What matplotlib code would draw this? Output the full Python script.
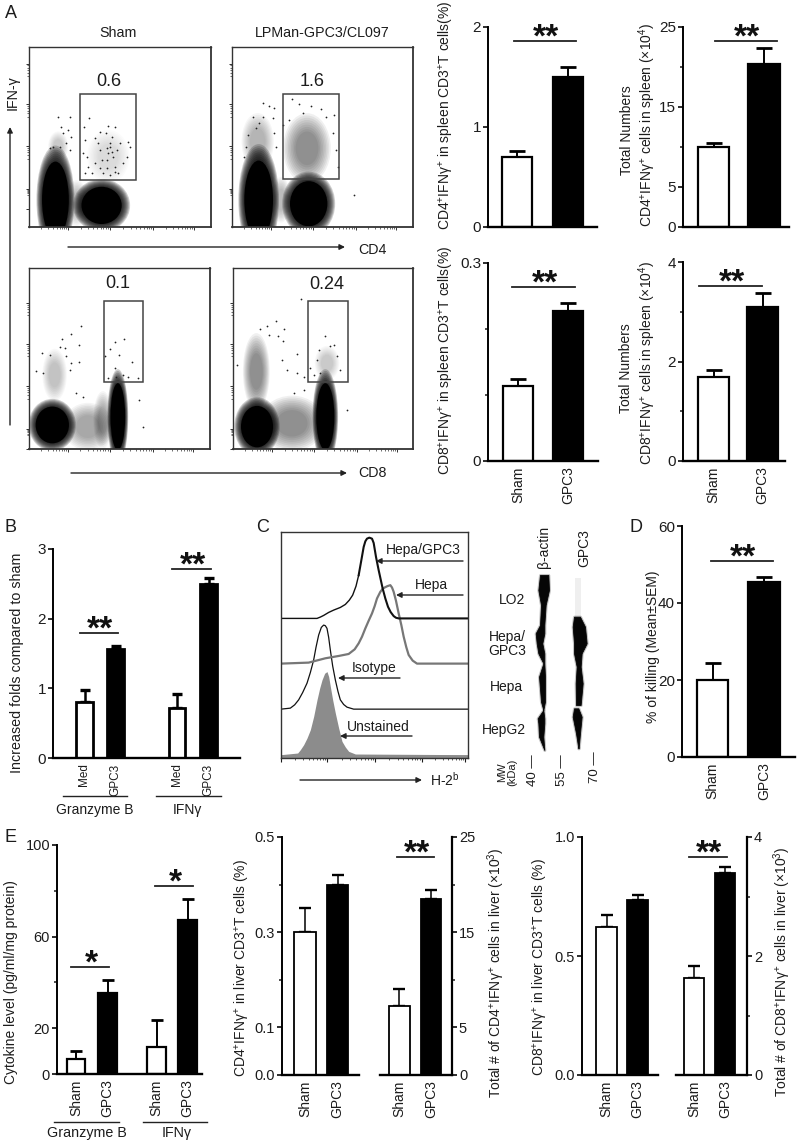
import numpy as np
import matplotlib
matplotlib.use("Agg")
import matplotlib.pyplot as plt
from matplotlib.patches import Ellipse, Rectangle

plt.rcParams['font.family'] = ['Liberation Sans', 'DejaVu Sans']
plt.rcParams['mathtext.fontset'] = 'custom'
plt.rcParams['mathtext.rm'] = 'Liberation Sans'
plt.rcParams['mathtext.default'] = 'rm'
INK = '#1c1c1c'
plt.rcParams['text.color'] = INK
plt.rcParams['axes.labelcolor'] = INK
plt.rcParams['xtick.color'] = INK
plt.rcParams['ytick.color'] = INK

# ---- bar data ----
sham_gpc3 = ['Sham', 'GPC3']
a1_vals, a1_errs = [0.70, 1.50], [0.06, 0.10]
a2_vals, a2_errs = [10.0, 20.4], [0.5, 2.0]
a3_vals, a3_errs = [0.114, 0.228], [0.010, 0.011]
a4_vals, a4_errs = [1.69, 3.09], [0.14, 0.29]
b_labels = ['Med', 'GPC3', 'Med', 'GPC3']
b_vals, b_errs = [0.80, 1.56, 0.715, 2.50], [0.17, 0.05, 0.205, 0.09]
d_vals, d_errs = [19.9, 45.5], [4.4, 1.2]
e1_labels = ['Sham', 'GPC3', 'Sham', 'GPC3']
e1_vals, e1_errs = [6.5, 35.3, 12.0, 67.3], [3.4, 5.8, 11.7, 9.2]
e2_vals, e2_errs = [0.30, 0.40], [0.05, 0.02]
e3_vals, e3_errs = [7.3, 18.5], [1.7, 0.9]
e4_vals, e4_errs = [0.62, 0.735], [0.053, 0.022]
e5_vals, e5_errs = [1.63, 3.40], [0.20, 0.09]

# ---- histogram curves (panel C) ----
h_gpc3_x = [47,155,165,175,190,205,225,240,252,262,272,280,288,295,300,305,312,320,325,332,340,352,360,368,376,385,392,400,608]
h_gpc3_y = [325,325,321,316,307,300,292,283,270,255,228,195,150,110,93,85,82,85,98,140,180,235,265,290,306,318,323,325,325]
h_hepa_x = [47,130,180,220,250,268,280,290,300,310,320,328,335,345,352,358,366,375,380,385,392,400,408,415,423,430,442,455,608]
h_hepa_y = [461,458,445,438,432,418,400,380,355,332,310,288,265,245,236,232,228,225,232,245,272,310,345,380,412,435,452,461,461]
h_iso_x = [47,75,88,100,112,125,135,145,152,160,168,175,180,185,190,195,202,210,218,225,235,245,265,608]
h_iso_y = [598,595,585,570,548,520,488,450,412,375,352,345,347,355,382,420,468,510,545,570,584,592,598,598]
h_un_x = [47,97,105,115,125,135,145,155,163,170,178,185,190,195,202,210,220,230,240,250,270,608]
h_un_y = [735,730,720,705,685,660,620,570,535,510,490,485,500,530,570,610,655,695,712,725,733,735]

# ---- western blot band outlines ----
actin_y = [195,240,285,345,370,400,430,460,500,575,600,625,640,680,720]
actin_l = [825,820,828,825,812,815,820,835,822,828,835,818,820,822,838]
actin_r = [850,852,842,838,838,832,838,838,840,840,835,838,838,835,838]
gpc_a_y = [320,350,400,430,470,520,585]
gpc_a_l = [42,38,42,42,50,47,48]
gpc_a_r = [60,75,80,65,62,68,62]
gpc_b_y = [595,620,670,715]
gpc_b_l = [42,38,48,55]
gpc_b_r = [55,65,60,56]

# ---- flow cytometry: populations (cx, cy, rx, ry, strength) and sparse events ----
f1_core = [(167,600,40,115),(305,617,60,56)]
f1_mid = [(175,440,26,40,.18),(325,470,55,70,.14),(230,610,30,60,.25)]
f1_pts = [(253,380),(267,355),(255,420),(250,460),(262,470),(285,415),(300,395),(295,430),(325,378),(345,382),
          (318,400),(335,410),(300,450),(330,440),(325,460),(340,470),(320,480),(360,430),(385,425),(380,470),
          (370,490),(345,500),(310,520),(330,525),(285,490),(265,500),(275,520),(355,520),(255,520),(390,440),
          (350,450),(305,480),(175,352),(210,352),(185,380),(205,390),(190,400),(215,410),(180,440),(200,430),
          (160,440),(150,445),(210,450),(330,430),(322,445),(335,455),(300,505),(320,505),(345,515)]
f2_core = [(168,600,43,118),(318,612,56,68)]
f2_mid = [(313,445,62,92,.42),(165,425,42,75,.28),(235,600,25,60,.25)]
f2_pts = [(268,296),(182,310),(198,318),(215,325),(290,312),(325,318),(355,328),(300,340),(180,350),(210,355),
          (160,385),(135,405),(453,587),(395,345),(370,350),(260,360),(240,375),(390,400),(400,450),(405,500),
          (130,440),(125,470),(215,400),(220,440),(170,370),(150,350)]
f3_core = [(158,555,50,55),(355,530,22,100)]
f3_mid = [(265,560,65,62,.33),(165,405,32,68,.22),(310,540,25,75,.30)]
f3_pts = [(245,258),(213,284),(187,298),(237,315),(180,322),(195,325),(128,340),(150,345),(237,367),(215,368),
          (375,297),(347,308),(332,328),(317,348),(360,345),(345,385),(397,365),(325,415),(370,405),(350,410),
          (385,412),(415,415),(420,480),(430,560),(130,400),(108,392),(200,350),(210,390),(230,460),(250,470)]
f4_core = [(160,560,48,62),(365,530,27,100)]
f4_mid = [(265,550,85,72,.42),(158,395,35,100,.42),(370,370,32,45,.2)]
f4_pts = [(292,178),(217,243),(190,258),(170,268),(240,268),(195,285),(222,288),(365,288),(280,342),(390,315),
          (345,330),(237,305),(100,375),(430,510),(300,410),(330,405),(280,400),(250,390),(235,360),(380,320),
          (340,360),(400,350),(410,390),(350,400),(320,385),(270,460),(300,450)]

gates = [(241,281,166,259),(242,281,166,257),(312,183,120,242),(312,184,120,242)]
gate_text = ['0.6', '1.6', '0.1', '0.24']

fig = plt.figure(figsize=(8.0, 11.47), dpi=100, facecolor='white')
W, H = 800.0, 1147.0

def px_axes(l, r, t, b):
    return fig.add_axes([l/W, 1-b/H, (r-l)/W, (b-t)/H])

def bar_panel(vals, errs, labels, l, r, t, b, edges, ymax, major, majl, minor, side='left',
              cap=6, lw=1.6, ts=11, ls=10):
    ax = px_axes(l, r, t, b)
    ax.patch.set_alpha(0)
    ax.set_xlim(l, r)
    ax.set_ylim(0, ymax)
    cs = [(e[0]+e[1])/2 for e in edges]
    ws = [e[1]-e[0] for e in edges]
    cols = ['white', 'black'] * (len(vals)//2)
    ax.errorbar(cs, vals, yerr=[[0]*len(errs), errs], fmt='none', ecolor='black',
                elinewidth=lw-0.2, capsize=cap, capthick=lw+0.4, clip_on=False, zorder=1)
    ax.bar(cs, vals, ws, color=cols, edgecolor='black', linewidth=lw, zorder=2)
    for s in ['top', 'left', 'right']:
        ax.spines[s].set_visible(False)
    ax.spines[side].set_visible(True)
    ax.spines[side].set_linewidth(1.6 if side == 'right' else 1.4)
    ax.spines['bottom'].set_linewidth(1.7)
    ax.yaxis.set_ticks_position(side)
    ax.set_yticks(major)
    ax.set_yticklabels(majl, fontsize=ts)
    ax.set_yticks(minor, minor=True)
    ax.tick_params(axis='y', which='major', length=3.5, width=1.3, pad=1.5)
    ax.tick_params(axis='y', which='minor', length=2.5, width=1.1)
    ax.set_xticks(cs)
    if labels:
        ax.set_xticklabels(labels, rotation=90, fontsize=ls, va='top', ha='center')
    else:
        ax.set_xticklabels([])
    ax.tick_params(axis='x', length=0, pad=4)
    return ax

def soft(ax, c, peak, s0, s1, n=9):
    a = 1 - (1 - peak) ** (1.0 / n)
    for i in range(n):
        k = s1 + (s0 - s1) * i / (n - 1)
        ax.add_patch(Ellipse((c[0], c[1]), 2*c[2]*k, 2*c[3]*k, fc='black', ec='none', lw=0, alpha=a))

def flow_panel(l, r, t, b, xr, yr, core, mid, pts, gate, gtext, tx, ty):
    ax = px_axes(l, r, t, b)
    ax.set_xlim(*xr)
    ax.set_ylim(*yr)
    for c in mid:
        soft(ax, c, c[4], 0.55, 1.15)
    for c in core:
        soft(ax, c, 0.85, 1.0, 1.42)
        ax.add_patch(Ellipse((c[0], c[1]), 2*c[2], 2*c[3], fc='black', ec='none', lw=0))
    ax.scatter([p[0] for p in pts], [p[1] for p in pts], s=1.6, c='#222222', lw=0)
    ax.add_patch(Rectangle((gate[0], gate[1]), gate[2], gate[3], fc='none', ec='#444444', lw=1.1, zorder=5))
    ax.text(tx, ty, gtext, fontsize=13, ha='center', va='center')
    dec_x = [90, 205, 330, 460, 580]
    dec_y = [627, 568, 437, 312, 190]
    ax.set_xticks(dec_x[1:])
    ax.set_yticks(dec_y)
    mins = np.log10(np.arange(2, 10))
    ax.set_xticks([a + (b_-a)*m for a, b_ in zip(dec_x[:-1], dec_x[1:]) for m in mins], minor=True)
    ax.set_yticks([a + (b_-a)*m for a, b_ in zip(dec_y[:-1], dec_y[1:]) for m in mins[3:]], minor=True)
    ax.set_xticklabels([])
    ax.set_yticklabels([])
    ax.tick_params(which='major', length=2.5, width=0.7, color='#333333')
    ax.tick_params(which='minor', length=1.2, width=0.5, color='#333333')
    for s in ax.spines.values():
        s.set_linewidth(1.0)
        s.set_color('#333333')
    ax.spines['right'].set_linewidth(1.3)
    ax.spines['bottom'].set_linewidth(1.3)

flow_panel(29, 211, 47, 227, (88, 632), (682, 140), f1_core, f1_mid, f1_pts, gates[0], gate_text[0], 328, 245)
flow_panel(232, 413, 47, 227, (88, 631), (682, 140), f2_core, f2_mid, f2_pts, gates[1], gate_text[1], 328, 245)
flow_panel(29, 210, 268, 449, (88, 632), (626, 85), f3_core, f3_mid, f3_pts, gates[2], gate_text[2], 355, 130)
flow_panel(233, 413, 268, 449, (88, 628), (626, 85), f4_core, f4_mid, f4_pts, gates[3], gate_text[3], 370, 135)

# ---- bar panels ----
bar_panel(a1_vals, a1_errs, None, 488, 597, 27, 227, [(502,532),(553,583)], 2, [0,1,2], ['0','1','2'], [])
bar_panel(a2_vals, a2_errs, None, 683, 789, 27, 227, [(698,729),(748,780)], 25, [0,5,15,25], ['0','5','15','25'], [10,20])
bar_panel(a3_vals, a3_errs, sham_gpc3, 488, 598, 263, 461, [(503,533),(553,583)], 0.3, [0,0.3], ['0','0.3'], [0.1,0.2])
bar_panel(a4_vals, a4_errs, sham_gpc3, 683, 785, 262, 461, [(698,729),(747,778)], 4, [0,2,4], ['0','2','4'], [1,3])
bar_panel(b_vals, b_errs, b_labels, 53, 240, 549, 758, [(76,93),(107,124),(169,185),(200,217)], 3, [0,1,2,3], ['0','1','2','3'], [], cap=3.8, lw=2.0, ls=8.5)
bar_panel(d_vals, d_errs, sham_gpc3, 682, 795, 526, 757, [(697,728),(748,780)], 60, [0,20,40,60], ['0','20','40','60'], [])
bar_panel(e1_vals, e1_errs, e1_labels, 57, 202, 845, 1074, [(67,85),(98,117),(147,166),(178,197)], 100, [0,20,60,100], ['0','20','60','100'], [40,80], cap=4, ts=10.5)
bar_panel(e2_vals, e2_errs, sham_gpc3, 282, 359, 837, 1075, [(294,316),(327,348)], 0.5, [0,0.1,0.3,0.5], ['0.0','0.1','0.3','0.5'], [0.2,0.4], cap=4, lw=1.3, ts=10.5)
bar_panel(e3_vals, e3_errs, sham_gpc3, 380, 452, 837, 1075, [(389,410),(421,441)], 25, [0,5,15,25], ['0','5','15','25'], [10,20], side='right', cap=4, lw=1.3, ts=10.5)
bar_panel(e4_vals, e4_errs, sham_gpc3, 582, 658, 837, 1075, [(596,617),(627,648)], 1.0, [0,0.5,1.0], ['0.0','0.5','1.0'], [], cap=4, lw=1.3, ts=10.5)
bar_panel(e5_vals, e5_errs, sham_gpc3, 676, 747, 837, 1075, [(684,704),(715,735)], 4, [0,2,4], ['0','2','4'], [1,3], side='right', cap=4, lw=1.3, ts=10.5)

# ---- histogram C ----
hx = px_axes(281, 468, 532, 758)
hx.set_xlim(47, 608)
hx.set_ylim(745, 65)
hx.fill_between([47, 608], [735, 735], [745, 745], color='#c8c8c8', lw=0)
hx.fill_between(h_un_x, h_un_y, [745]*len(h_un_y), color='#8c8c8c', lw=0)
hx.plot(h_iso_x, h_iso_y, color='#111111', lw=0.9)
hx.plot(h_hepa_x, h_hepa_y, color='#777777', lw=1.6)
hx.plot(h_gpc3_x[:12], h_gpc3_y[:12], color='#111111', lw=1.0)
hx.plot(h_gpc3_x[11:], h_gpc3_y[11:], color='#111111', lw=1.5)
d = [47, 185, 330, 470, 600]
hx.set_xticks(d)
mins = np.log10(np.arange(2, 10))
hx.set_xticks([a + (b_-a)*m for a, b_ in zip(d[:-1], d[1:]) for m in mins], minor=True)
hx.set_xticklabels([])
hx.set_yticks([])
hx.tick_params(which='major', length=3, width=0.8)
hx.tick_params(which='minor', length=1.5, width=0.5)
for s in hx.spines.values():
    s.set_linewidth(1.0)
    s.set_color('#333333')

# ---- overlay: text, arrows, blots, significance lines ----
ov = fig.add_axes([0, 0, 1, 1], zorder=10)
ov.set_xlim(0, W)
ov.set_ylim(H, 0)
ov.axis('off')
ov.patch.set_alpha(0)

# blots
def band(ys, ls, rs, xo):
    yy = [510+y/3 for y in ys]
    lo = [xo+v/3 for v in ls]
    hi = [xo+v/3 for v in rs]
    ov.fill_betweenx(yy, lo, hi, color='#555555', lw=2.2, alpha=0.35, joinstyle='round')
    ov.fill_betweenx(yy, lo, hi, color='#060606', lw=0.6, joinstyle='round')

band(actin_y, actin_l, actin_r, 265)
band(gpc_a_y, gpc_a_l, gpc_a_r, 560)
band(gpc_b_y, gpc_b_l, gpc_b_r, 560)
ov.add_patch(Rectangle((575, 578), 6, 39, fc='#efefef', ec='none', zorder=0))

def T(x, y, s, size=10, rot=0, ha='center', va='center', **kw):
    ov.text(x, y, s, fontsize=size, rotation=rot, ha=ha, va=va, **kw)

def arrow(x0, y0, x1, y1, lw=1.0):
    ov.annotate('', xy=(x1, y1), xytext=(x0, y0),
                arrowprops=dict(arrowstyle='-|>', lw=lw, color='#222222', shrinkA=0, shrinkB=0, mutation_scale=8))

def sig(x0, x1, y, n=2, lw=1.3):
    ov.plot([x0, x1], [y, y], color='#222222', lw=lw)
    ov.text((x0+x1)/2 + 1, y + 6, '*'*n, fontsize=24, fontweight='bold', ha='center', va='baseline', color='#111111')

for letter, x, y in [('A',11,13),('B',10,527),('C',263,527),('D',636,528),('E',10,838)]:
    T(x, y, letter, size=13)

T(118, 33, 'Sham', 10.3)
T(322, 33, 'LPMan-GPC3/CL097', 10.3)
T(13, 93, 'IFN-γ', 10.3, rot=90)
T(372, 250, 'CD4', 10.3)
T(372, 473, 'CD8', 10.3)
arrow(10, 425, 10, 127)
arrow(68, 247, 345, 247)
arrow(71, 473, 347, 473)

T(447, 115, 'CD4$^{+}$IFNγ$^{+}$ in spleen CD3$^{+}$T cells(%)', 10, rot=90)
T(627, 130, 'Total Numbers', 10, rot=90)
T(647, 125, 'CD4$^{+}$IFNγ$^{+}$ cells in spleen (×10$^{4}$)', 10, rot=90)
T(447, 360, 'CD8$^{+}$IFNγ$^{+}$ in spleen CD3$^{+}$T cells(%)', 10, rot=90)
T(626, 368, 'Total Numbers', 10, rot=90)
T(647, 363, 'CD8$^{+}$IFNγ$^{+}$ cells in spleen (×10$^{4}$)', 10, rot=90)
T(17, 663, 'Increased folds compared to sham', 10.3, rot=90)
T(653, 647, '% of killing (Mean±SEM)', 10, rot=90)
T(11, 982, 'Cytokine level (pg/ml/mg protein)', 10, rot=90)
T(242, 968, 'CD4$^{+}$IFNγ$^{+}$ in liver CD3$^{+}$T cells (%)', 10, rot=90)
T(496, 973, 'Total # of CD4$^{+}$IFNγ$^{+}$ cells in liver (×10$^{3}$)', 10, rot=90)
T(540, 967, 'CD8$^{+}$IFNγ$^{+}$ in liver CD3$^{+}$T cells (%)', 10, rot=90)
T(782, 972, 'Total # of CD8$^{+}$IFNγ$^{+}$ cells in liver (×10$^{3}$)', 10, rot=90)

sig(514, 576, 41); sig(715, 777, 41)
sig(512, 575, 287); sig(699, 762, 286)
sig(80, 118, 633); sig(172, 211, 569)
sig(711, 773, 561)
sig(71, 109, 967, 1); sig(155, 193, 886, 1)
sig(397, 434, 857); sig(689, 727, 857)

for x0, x1, y in [(63,127,796),(156,221,796),(54,119,1122),(143,207,1122)]:
    ov.plot([x0, x1], [y, y], color='#222222', lw=1.0)
T(95, 810, 'Granzyme B', 10)
T(187, 810, 'IFNγ', 10)
T(87, 1133, 'Granzyme B', 10.3)
T(177, 1133, 'IFNγ', 10.3)

T(423, 550, 'Hepa/GPC3', 10)
T(431, 585, 'Hepa', 10)
T(374, 668, 'Isotype', 10)
T(378, 727, 'Unstained', 10)
arrow(463, 561, 376, 561)
arrow(463, 595, 396, 595)
arrow(400, 678, 338, 678)
arrow(412, 736, 340, 736)
arrow(300, 780, 422, 780)
T(445, 780, 'H-2$^{b}$', 10)
T(512, 600, 'LO2', 10)
T(507, 644, 'Hepa/\nGPC3', 10, linespacing=1.0)
T(506, 687, 'Hepa', 10)
T(504, 730, 'HepG2', 10)
T(544, 547, 'β-actin', 10, rot=90)
T(584, 548, 'GPC3', 10, rot=90)
T(507, 772, 'MW\n(kDa)', 8, rot=90, linespacing=1.0)
T(533, 770, '40 —', 9.5, rot=90)
T(562, 770, '55 —', 9.5, rot=90)
T(595, 767, '70 —', 9.5, rot=90)

fig.savefig('out.png', dpi=100, facecolor='white')
